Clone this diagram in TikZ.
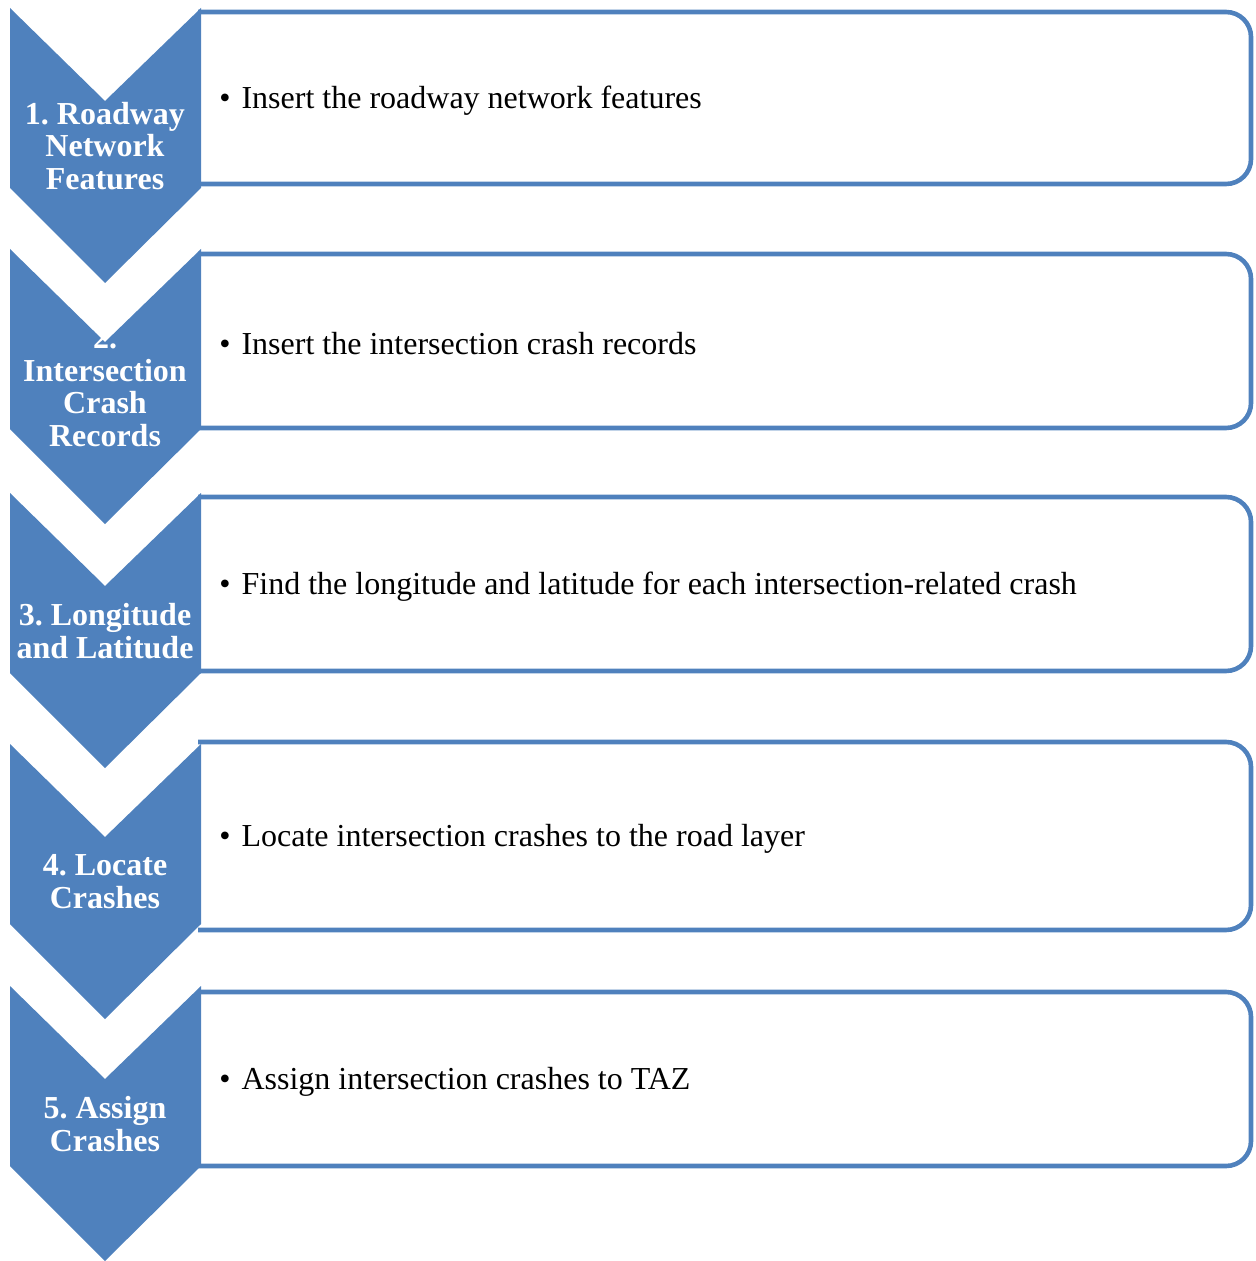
\documentclass[tikz,border=0pt]{standalone}
\usepackage{fontspec}
\setmainfont{Liberation Serif}
\frenchspacing
\definecolor{chevblue}{RGB}{79,129,189}
\tikzset{
  chevlabel/.style={text=white,font=\fontsize{16}{16.4}\selectfont\bfseries,align=center,inner sep=0pt},
  steptext/.style={font=\fontsize{16}{19}\selectfont,anchor=west,inner sep=0pt},
  boxline/.style={draw=chevblue,line width=2.3pt,rounded corners=12.5pt}
}
\begin{document}
\begin{tikzpicture}[x=0.5pt,y=-0.5pt]
\useasboundingbox (0,0) rectangle (1255,1261);
\foreach \n/\ct/\bt/\bb/\lab/\txt in {
  1/8/12/184/{1. Roadway\\Network\\Features}/{Insert the roadway network features},
  2/249/254/428/{2.\\Intersection\\Crash\\Records}/{Insert the intersection crash records},
  3/493/497/671/{3. Longitude\\and Latitude}/{Find the longitude and latitude for each intersection-related crash},
  4/744/742/930/{4. Locate\\Crashes}/{Locate intersection crashes to the road layer},
  5/986/992/1166/{5. Assign\\Crashes}/{Assign intersection crashes to TAZ}}{
  \draw[boxline] (198,\bt) -- (1251,\bt) -- (1251,\bb) -- (198,\bb);
  \fill[chevblue] (10,\ct) -- (105,\ct+93) -- (201,\ct) -- (201,\ct+180) -- (105,\ct+275) -- (10,\ct+180) -- cycle;
  \node[chevlabel] (lab\n) at (105,\ct+138) {\lab};
  \node[steptext] (txt\n) at (219,{(\bt+\bb)/2+3}) {\textbullet\hspace{5.5pt}\txt};
}
\end{tikzpicture}
\end{document}
